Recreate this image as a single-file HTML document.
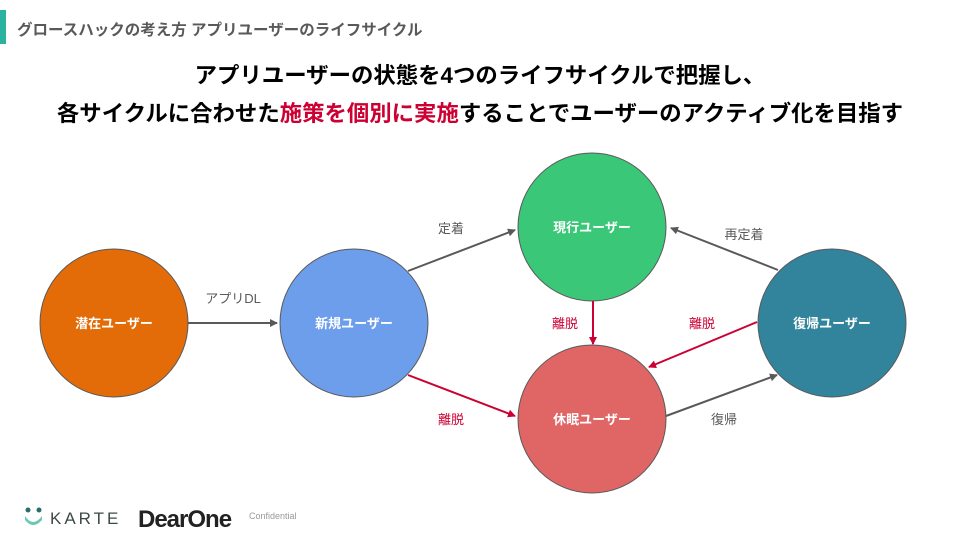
<!DOCTYPE html>
<html><head><meta charset="utf-8"><style>
body{margin:0;width:960px;height:540px;background:#fff;position:relative;overflow:hidden;font-family:"Liberation Sans","Noto Sans CJK JP",sans-serif}
.bar{position:absolute;left:0;top:10px;width:6px;height:34px;background:#2bb3a0}
.t{position:absolute;left:17px;top:18px;font-size:15.5px;font-weight:bold;color:#595959;white-space:nowrap}
.h{position:absolute;left:0;width:960px;text-align:center;font-size:22.4px;font-weight:bold;color:#000;white-space:nowrap}
.r{color:#cc0033}
</style></head><body>
<div class="bar"></div>
<div class="t">グロースハックの考え方 アプリユーザーのライフサイクル</div>
<div class="h" style="top:58px">アプリユーザーの状態を4つのライフサイクルで把握し、</div>
<div class="h" style="top:96px">各サイクルに合わせた<span class="r">施策を個別に実施</span>することでユーザーのアクティブ化を目指す</div>
<svg width="960" height="540" style="position:absolute;left:0;top:0" font-family="Liberation Sans, Noto Sans CJK JP, sans-serif">
<defs>
<marker id="g" markerWidth="8" markerHeight="8" refX="7" refY="4" orient="auto" markerUnits="userSpaceOnUse"><path d="M0,0L8,4L0,8z" fill="#595959"/></marker>
<marker id="rd" markerWidth="8" markerHeight="8" refX="7" refY="4" orient="auto" markerUnits="userSpaceOnUse"><path d="M0,0L8,4L0,8z" fill="#cc0033"/></marker>
</defs>
<g stroke="#595959" stroke-width="1">
<circle cx="114" cy="323" r="74" fill="#e36c09"/>
<circle cx="354" cy="323" r="74" fill="#6d9eeb"/>
<circle cx="592" cy="227" r="74" fill="#3ac777"/>
<circle cx="592" cy="419" r="74" fill="#e06666"/>
<circle cx="832" cy="323" r="74" fill="#31849b"/>
</g>
<g stroke="#595959" stroke-width="2" fill="none" marker-end="url(#g)">
<line x1="188" y1="323" x2="277" y2="323"/>
<line x1="408" y1="271" x2="515" y2="230"/>
<line x1="778" y1="270" x2="671" y2="228"/>
<line x1="666" y1="416" x2="777" y2="375"/>
</g>
<g stroke="#cc0033" stroke-width="2" fill="none" marker-end="url(#rd)">
<line x1="408" y1="375" x2="515" y2="416"/>
<line x1="593" y1="301" x2="593" y2="344"/>
<line x1="757" y1="322" x2="649" y2="367"/>
</g>
<g font-size="13" font-weight="bold" fill="#fff" text-anchor="middle">
<text x="114" y="328">潜在ユーザー</text>
<text x="354" y="328">新規ユーザー</text>
<text x="592" y="232">現行ユーザー</text>
<text x="592" y="424">休眠ユーザー</text>
<text x="832" y="328">復帰ユーザー</text>
</g>
<g font-size="13" fill="#595959" text-anchor="middle">
<text x="233" y="303">アプリDL</text>
<text x="451" y="233">定着</text>
<text x="744" y="239">再定着</text>
<text x="724" y="424">復帰</text>
</g>
<g font-size="13" fill="#cc0033" text-anchor="middle">
<text x="451" y="424">離脱</text>
<text x="565" y="328">離脱</text>
<text x="702" y="328">離脱</text>
</g>
<g>
<circle cx="28" cy="510" r="2.5" fill="#2a6d6a"/><circle cx="39" cy="510" r="2.5" fill="#2a6d6a"/>
<path d="M25,516 Q33,528 42,516 L42,520 Q33,530 25,520z" fill="#6cc7b5"/>
<text x="50" y="524" font-size="17" fill="#3d4a48" letter-spacing="3">KARTE</text>
<text x="138" y="527" font-size="24" font-weight="bold" fill="#222" letter-spacing="-1">DearOne</text>
<text x="249" y="519" font-size="9" fill="#999">Confidential</text>
</g>
</svg>
</body></html>
